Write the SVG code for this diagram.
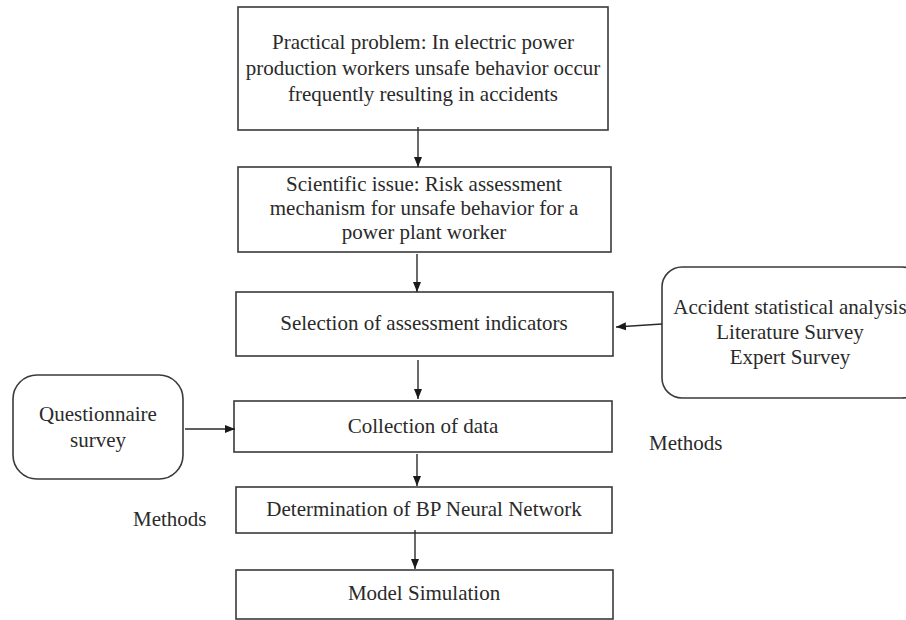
<svg xmlns="http://www.w3.org/2000/svg" width="906" height="620" viewBox="0 0 906 620">
<style>
.box{fill:#fff;stroke:#3a3a3a;stroke-width:1.6}
.t{font-family:"Liberation Serif","Times New Roman",serif;font-size:21px;fill:#2a2a2a;text-anchor:middle}
.tl{font-family:"Liberation Serif","Times New Roman",serif;font-size:21px;fill:#2a2a2a}
.c{stroke:#2a2a2a;stroke-width:1.4;fill:none;marker-end:url(#ah)}
</style>
<defs>
<marker id="ah" viewBox="0 0 10 10" refX="10" refY="5" markerWidth="10" markerHeight="10" markerUnits="userSpaceOnUse" orient="auto">
<path d="M0,1 L10,5 L0,9 z" fill="#1a1a1a"/>
</marker>
</defs>
<rect width="906" height="620" fill="#fff"/>
<g id="n1"><rect class="box" x="238" y="7" width="370" height="123"/>
<text class="t" x="423" y="49">Practical problem: In electric power</text>
<text class="t" x="423" y="75">production workers unsafe behavior occur</text>
<text class="t" x="423" y="101">frequently resulting in accidents</text></g>
<g id="n2"><rect class="box" x="238" y="167" width="373" height="85"/>
<text class="t" x="424" y="191">Scientific issue: Risk assessment</text>
<text class="t" x="424" y="215">mechanism for unsafe behavior for a</text>
<text class="t" x="424" y="239">power plant worker</text></g>
<g id="n3"><rect class="box" x="236" y="292" width="377" height="64"/>
<text class="t" x="424" y="330">Selection of assessment indicators</text></g>
<g id="n4"><rect class="box" x="234" y="401" width="378" height="51"/>
<text class="t" x="423" y="433">Collection of data</text></g>
<g id="n5"><rect class="box" x="236" y="487" width="376" height="46"/>
<text class="t" x="424" y="516">Determination of BP Neural Network</text></g>
<g id="n6"><rect class="box" x="236" y="570" width="377" height="49"/>
<text class="t" x="424" y="600">Model Simulation</text></g>
<g id="n7"><rect class="box" x="13" y="375" width="170" height="104" rx="24"/>
<text class="t" x="98" y="421">Questionnaire</text>
<text class="t" x="98" y="447">survey</text></g>
<g id="n8"><rect class="box" x="662" y="267" width="260" height="131" rx="20"/>
<text class="t" x="790" y="314">Accident statistical analysis</text>
<text class="t" x="790" y="339">Literature Survey</text>
<text class="t" x="790" y="364">Expert Survey</text></g>
<g id="labels">
<text class="tl" x="133" y="526">Methods</text>
<text class="tl" x="649" y="450">Methods</text>
</g>
<g id="connectors">
<line class="c" x1="418" y1="127" x2="418" y2="167"/>
<line class="c" x1="417" y1="254" x2="417" y2="292"/>
<line class="c" x1="418" y1="360" x2="418" y2="399"/>
<line class="c" x1="417" y1="454" x2="417" y2="486"/>
<line class="c" x1="415" y1="530" x2="415" y2="569"/>
<line class="c" x1="185" y1="429" x2="235" y2="429"/>
<line class="c" x1="662" y1="324" x2="616" y2="327"/>
</g>
</svg>
